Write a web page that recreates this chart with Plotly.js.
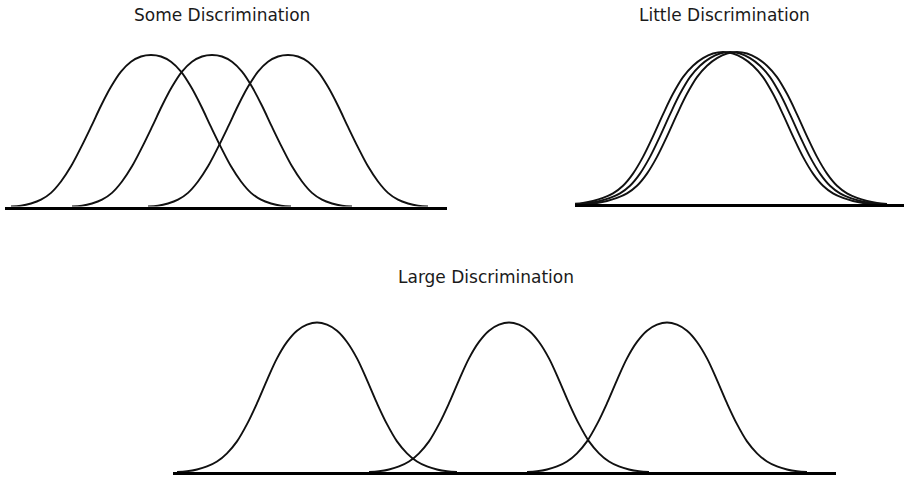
<!DOCTYPE html>
<html>
<head>
<meta charset="utf-8">
<script src="https://cdn.plot.ly/plotly-3.0.1.min.js"></script>
<style>html,body{margin:0;padding:0;background:#fff;}#chart{width:904px;height:477px;}</style>
</head>
<body>
<div id="chart"></div>
<script>
// ---- Data ----
// Panel titles
const panelTitles = ["Some Discrimination", "Little Discrimination", "Large Discrimination"];

// Half-profile of each panel's curves: distance from the curve centre and relative height
// (the curves are symmetric, the other half is the mirror image)
const someOffsets   = [0, 10, 20, 30, 40, 50, 60, 70, 80, 90, 100, 110, 120, 130, 140];
const someHeights   = [1, 0.99, 0.955, 0.89, 0.79, 0.665, 0.525, 0.39, 0.265, 0.165, 0.09, 0.045, 0.02, 0.005, 0];
const littleOffsets = [0, 10, 20, 30, 40, 50, 60, 70, 80, 90, 100, 110, 120, 130, 140, 150];
const littleHeights = [1, 0.99, 0.96, 0.91, 0.835, 0.725, 0.59, 0.445, 0.31, 0.2, 0.12, 0.07, 0.04, 0.02, 0.007, 0];
const largeOffsets  = [0, 10, 20, 30, 40, 50, 60, 70, 80, 90, 100, 110, 120, 130, 140];
const largeHeights  = [1, 0.985, 0.945, 0.87, 0.76, 0.615, 0.46, 0.32, 0.205, 0.125, 0.07, 0.037, 0.017, 0.005, 0];

// Curve centres (in the panel's horizontal units)
const someCentres   = [151, 212, 288];
const littleCentres = [723, 730, 737];
const largeCentres  = [317, 509, 667];

// ---- Layout geometry (pixels) ----
const W = 904, H = 477;
const panels = [
  {x0: 5,   x1: 447, base: 206.5, peak: 55,    title: [222, 15]},
  {x0: 575, x1: 904, base: 204,   peak: 52,    title: [724, 15]},
  {x0: 173, x1: 836, base: 472,   peak: 322.5, title: [486, 277]}
];
const profiles = [
  {off: someOffsets,   h: someHeights,   centres: someCentres},
  {off: littleOffsets, h: littleHeights, centres: littleCentres},
  {off: largeOffsets,  h: largeHeights,  centres: largeCentres}
];

function fullCurve(off, h, c) {
  const xs = [], ys = [];
  for (let k = off.length - 1; k > 0; k--) { xs.push(c - off[k]); ys.push(h[k]); }
  for (let k = 0; k < off.length; k++) { xs.push(c + off[k]); ys.push(h[k]); }
  return {xs, ys};
}

const YTOP = 1.1;
const traces = [];
const layout = {
  width: W, height: H,
  margin: {l: 0, r: 0, t: 0, b: 0},
  paper_bgcolor: '#fff', plot_bgcolor: 'rgba(0,0,0,0)',
  showlegend: false,
  annotations: []
};

panels.forEach((p, i) => {
  const n = i === 0 ? '' : String(i + 1);
  const hpx = p.base - p.peak;
  layout['xaxis' + n] = {
    domain: [p.x0 / W, p.x1 / W], range: [p.x0, p.x1],
    showline: true, linewidth: 3, linecolor: '#000', mirror: false,
    showgrid: false, zeroline: false, showticklabels: false, ticks: '',
    anchor: 'y' + n, fixedrange: true
  };
  layout['yaxis' + n] = {
    domain: [(H - p.base) / H, (H - (p.base - YTOP * hpx)) / H], range: [0, YTOP],
    visible: false, showgrid: false, zeroline: false, anchor: 'x' + n, fixedrange: true
  };
  const pr = profiles[i];
  pr.centres.forEach(c => {
    const cv = fullCurve(pr.off, pr.h, c);
    traces.push({
      type: 'scatter', mode: 'lines',
      x: cv.xs, y: cv.ys,
      xaxis: 'x' + n, yaxis: 'y' + n,
      line: {color: '#111', width: 1.9, shape: 'spline', smoothing: 1},
      hoverinfo: 'skip'
    });
  });
  layout.annotations.push({
    text: panelTitles[i], xref: 'paper', yref: 'paper',
    x: p.title[0] / W, y: 1 - p.title[1] / H, xanchor: 'center', yanchor: 'middle',
    showarrow: false, font: {family: 'DejaVu Sans', size: 17, color: '#1a1a1a'}
  });
});

Plotly.newPlot('chart', traces, layout, {displayModeBar: false, staticPlot: true});
</script>
</body>
</html>
